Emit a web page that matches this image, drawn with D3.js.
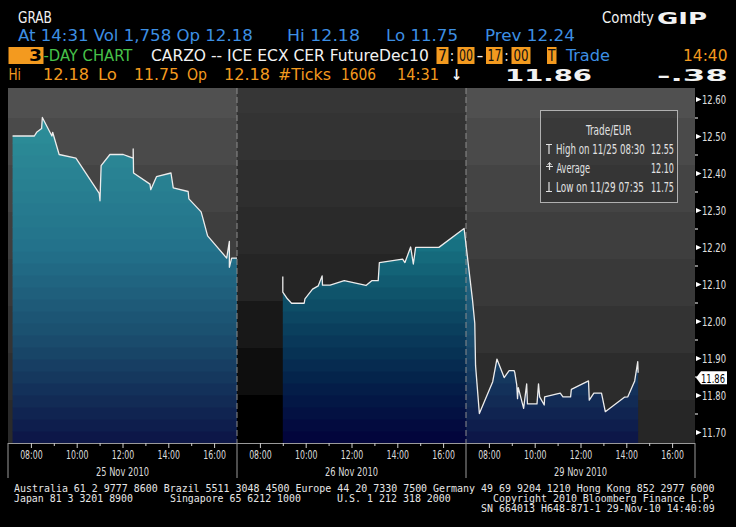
<!DOCTYPE html>
<html><head><meta charset="utf-8">
<script src="https://cdn.jsdelivr.net/npm/d3@7"></script>
<style>body{margin:0;background:#000;} svg{display:block;}</style>
</head><body>
<svg id="c" width="736" height="527"></svg>
<script>
// ---------------- data ----------------
const dayLabels = ["25 Nov 2010", "26 Nov 2010", "29 Nov 2010"];
const dayShort = ["11/25", "11/26", "11/29"];
const hourTicks = [8, 9, 10, 11, 12, 13, 14, 15, 16];
const priceTicks = [11.70, 11.80, 11.90, 12.00, 12.10, 12.20, 12.30, 12.40, 12.50, 12.60];
const day1 = [["07:12",12.50],["08:09",12.50],["08:15",12.51],["08:28",12.52],["08:30",12.55],["08:55",12.50],["08:57",12.51],["09:14",12.45],["09:58",12.44],["10:59",12.345],["11:01",12.325],["11:04",12.42],["11:27",12.45],["12:02",12.45],["12:15",12.445],["12:28",12.44],["12:28",12.465],["12:29",12.40],["13:12",12.37],["13:14",12.355],["13:29",12.39],["14:07",12.40],["14:13",12.36],["14:52",12.35],["14:54",12.33],["15:26",12.295],["15:30",12.28],["15:43",12.23],["16:33",12.17],["16:40",12.215],["16:40",12.145],["16:46",12.17],["17:00",12.17]];
const day2 = [["09:00",12.12],["09:00",12.078],["09:12",12.06],["09:23",12.048],["09:56",12.048],["09:58",12.06],["10:18",12.086],["10:33",12.095],["10:43",12.122],["10:44",12.097],["11:04",12.097],["11:41",12.109],["12:38",12.096],["12:53",12.109],["13:10",12.109],["13:13",12.158],["14:14",12.167],["14:20",12.158],["14:35",12.20],["14:42",12.154],["14:48",12.199],["15:49",12.199],["16:55",12.25]];
const day3 = [["07:17",12.057],["07:23",11.994],["07:25",11.88],["07:35",11.75],["08:10",11.836],["08:21",11.897],["08:40",11.847],["08:53",11.866],["09:06",11.866],["09:08",11.86],["09:13",11.827],["09:15",11.79],["09:17",11.82],["09:31",11.764],["09:39",11.83],["09:41",11.776],["10:06",11.776],["10:10",11.83],["10:13",11.795],["10:25",11.773],["10:26",11.795],["11:07",11.805],["11:14",11.795],["11:34",11.795],["11:36",11.815],["12:21",11.838],["12:23",11.786],["12:35",11.805],["12:55",11.805],["13:05",11.755],["13:55",11.794],["14:04",11.795],["14:22",11.838],["14:30",11.89],["14:31",11.86]];
const lastPrice = 11.86;
const avgPrice = 12.10;

// ---------------- layout ----------------
const plotL = 8, plotR = 695, plotT = 88, plotB = 443, axisB = 478;
const sessStart = 7, sessLen = 10;
const FC = "'DejaVu Sans Condensed','DejaVu Sans',sans-serif";
const svg = d3.select("#c");
svg.append("rect").attr("width",736).attr("height",527).attr("fill","#000");

const x = d3.scaleLinear().domain([0, 30]).range([plotL, plotR]);
const y = d3.scaleLinear().domain([11.70, 12.60]).range([432, 99]);
const sess = (d, t) => { const [h, m] = t.split(":").map(Number); return d * sessLen + h + m / 60 - sessStart; };
const toPts = (arr, d) => arr.map(([t, v]) => ({ s: sess(d, t), v, d, t }));
const s1 = toPts(day1, 0);
const s23 = toPts(day2, 1).concat(toPts(day3, 2));
const all = s1.concat(s23);

const defs = svg.append("defs");

// text fitted to a width by horizontal scaling
function fit(parent, xx, yy, s, w, col, opts = {}) {
  const t = parent.append("text").attr("x", 0).attr("y", 0).attr("fill", col)
    .style("font-family", opts.family || FC).style("font-size", (opts.size || 14) + "px")
    .style("font-weight", opts.bold ? "bold" : "normal").text(s);
  const L = t.node().getComputedTextLength() || w;
  const sx = w / L;
  let x0 = xx;
  if (opts.anchor === "middle") x0 = xx - w / 2;
  if (opts.anchor === "end") x0 = xx - w;
  t.attr("transform", `translate(${x0},${yy}) scale(${sx},1)`);
  return t;
}

// background bands per panel
const bgCols = [
  ["#505050","#4a4a4a","#444444","#3e3e3e","#393939","#343434","#2f2f2f","#2a2a2a"],
  ["#363636","#333333","#2e2e2e","#2a2a2a","#252525","#181818","#0e0e0e","#000000"],
  ["#505050","#4a4a4a","#444444","#3e3e3e","#393939","#333333","#2c2c2c","#262626"]
];
const bgStart = [118, 113, 118];
for (let p = 0; p < 3; p++) {
  const x0 = x(p * sessLen), x1 = x(p * sessLen + sessLen);
  let edges = [plotT];
  for (let e = bgStart[p]; e < plotB; e += 47) edges.push(e);
  edges.push(plotB);
  for (let i = 0; i < edges.length - 1; i++) {
    svg.append("rect").attr("x", x0).attr("y", edges[i]).attr("width", x1 - x0)
      .attr("height", edges[i + 1] - edges[i]).attr("fill", bgCols[p][Math.min(i, 7)]);
  }
  defs.append("clipPath").attr("id", "pc" + p).append("rect")
    .attr("x", x0).attr("y", plotT).attr("width", x1 - x0).attr("height", plotB - plotT);
}

// area clip paths
const area = d3.area().x(d => x(d.s)).y0(plotB).y1(d => y(d.v));
defs.append("clipPath").attr("id", "a1").append("path").attr("d", area(s1));
defs.append("clipPath").attr("id", "a23").append("path").attr("d", area(s23));

const fillLight = d3.scaleLinear().domain([100, 250, 340, 443])
  .range(["#2e939b", "#23718a", "#1a4c6c", "#0c1446"]);
const fillDark = d3.scaleLinear().domain([100, 230, 300, 380, 443])
  .range(["#1f8d99", "#197a89", "#0e5068", "#04224a", "#02023a"]);
const fillScales = [fillLight, fillDark, fillLight];
const areaIds = ["a1", "a23", "a23"];
for (let p = 0; p < 3; p++) {
  const g = svg.append("g").attr("clip-path", `url(#pc${p})`)
    .append("g").attr("clip-path", `url(#${areaIds[p]})`);
  const x0 = x(p * sessLen), x1 = x(p * sessLen + sessLen);
  for (let yy = plotB; yy > plotT; yy -= 12) {
    const top = Math.max(plotT, yy - 12);
    g.append("rect").attr("x", x0).attr("y", top).attr("width", x1 - x0)
      .attr("height", yy - top + 0.5).attr("fill", fillScales[p](yy - 6));
  }
}

// panel separators (dashed)
[1, 2].forEach(p => {
  svg.append("line").attr("x1", x(p * sessLen)).attr("x2", x(p * sessLen))
    .attr("y1", plotT).attr("y2", plotB).attr("stroke", "#8c8c8c")
    .attr("stroke-width", 1).attr("stroke-dasharray", "6,3");
});

// price lines
const line = d3.line().x(d => x(d.s)).y(d => y(d.v));
[s1, s23].forEach(s => svg.append("path").attr("d", line(s)).attr("fill", "none")
  .attr("stroke", "#ececec").attr("stroke-width", 1.3).attr("stroke-linejoin", "round"));

// ---------------- bottom axis ----------------
const axG = svg.append("g");
axG.append("line").attr("x1", plotL).attr("x2", plotR).attr("y1", plotB + 0.5).attr("y2", plotB + 0.5)
  .attr("stroke", "#9a9a9a");
[0, 1, 2, 3].forEach(p => axG.append("line").attr("x1", x(p * sessLen)).attr("x2", x(p * sessLen))
  .attr("y1", plotB).attr("y2", axisB).attr("stroke", "#9a9a9a"));
const majS = [], minS = [];
for (let p = 0; p < 3; p++) hourTicks.forEach(h => (h % 2 === 0 ? majS : minS).push(p * sessLen + h - sessStart));
const fmtH = s => { const h = Math.round(s % sessLen + sessStart); return String(h).padStart(2, "0") + ":00"; };
const gMaj = axG.append("g").attr("transform", `translate(0,${plotB})`)
  .call(d3.axisBottom(x).tickValues(majS).tickSize(5).tickFormat(fmtH));
const gMin = axG.append("g").attr("transform", `translate(0,${plotB})`)
  .call(d3.axisBottom(x).tickValues(minS).tickSize(3).tickFormat(""));
[gMaj, gMin].forEach(g => { g.select(".domain").remove(); g.selectAll("line").attr("stroke", "#cfcfcf"); });
gMaj.selectAll("text").attr("y", 16).attr("dy", 0).attr("fill", "#dcdcdc")
  .style("font-family", FC).style("font-size", "13px")
  .attr("textLength", 22.5).attr("lengthAdjust", "spacingAndGlyphs");
dayLabels.forEach((lab, p) => axG.append("text").attr("x", x(p * sessLen + sessLen / 2)).attr("y", 476)
  .attr("text-anchor", "middle").attr("fill", "#dcdcdc").style("font-family", FC).style("font-size", "13px")
  .attr("textLength", 53).attr("lengthAdjust", "spacingAndGlyphs").text(lab));

// ---------------- right axis ----------------
const gY = svg.append("g").attr("transform", `translate(${plotR},0)`)
  .call(d3.axisRight(y).tickValues(priceTicks).tickSize(0).tickPadding(7).tickFormat(d3.format(".2f")));
gY.select(".domain").remove();
gY.selectAll(".tick text").attr("fill", "#e0e0e0").style("font-family", FC).style("font-size", "13px")
  .attr("textLength", 24).attr("lengthAdjust", "spacingAndGlyphs");
gY.selectAll(".tick").append("path").attr("d", "M1,-2.6L6.5,0L1,2.6Z").attr("fill", "#ffffff");
const midTicks = priceTicks.slice(0, -1).map(v => v + 0.05);
const gY2 = svg.append("g").attr("transform", `translate(${plotR},0)`)
  .call(d3.axisRight(y).tickValues(midTicks).tickSize(3).tickFormat(""));
gY2.select(".domain").remove();
gY2.selectAll("line").attr("stroke", "#ffffff");

// last price tag
const ty = y(lastPrice) + 5;
svg.append("path").attr("d", `M${plotR + 1},${ty} L${plotR + 6},${ty - 6.5} L${plotR + 32},${ty - 6.5} L${plotR + 32},${ty + 6.5} L${plotR + 6},${ty + 6.5} Z`)
  .attr("fill", "#ffffff");
fit(svg, plotR + 6, ty + 5, lastPrice.toFixed(2), 24, "#000", { size: 13 });

// ---------------- legend ----------------
const hi = all.reduce((a, b) => (b.v > a.v ? b : a));
const lo = all.reduce((a, b) => (b.v < a.v ? b : a));
const lg = svg.append("g");
lg.append("rect").attr("x", 540.5).attr("y", 110.5).attr("width", 137).attr("height", 92)
  .attr("fill", "#000").attr("fill-opacity", 0.22).attr("stroke", "#b0b0b0").attr("stroke-width", 1);
const LC = "#e2e2e2";
fit(lg, 586, 135, "Trade/EUR", 45.5, LC);
fit(lg, 556, 154, `High on ${dayShort[hi.d]} ${hi.t}`, 89, LC);
fit(lg, 674, 154, hi.v.toFixed(2), 23, LC, { anchor: "end" });
fit(lg, 556.5, 173, "Average", 33.5, LC);
fit(lg, 674, 173, avgPrice.toFixed(2), 23, LC, { anchor: "end" });
fit(lg, 556, 192, `Low on ${dayShort[lo.d]} ${lo.t}`, 88, LC);
fit(lg, 674, 192, lo.v.toFixed(2), 23, LC, { anchor: "end" });
// symbols
lg.append("path").attr("d", "M546,144.5 H552 M549,144.5 V154").attr("stroke", LC).attr("stroke-width", 1.2);
lg.append("path").attr("d", "M546,166.5 H553 M549.5,163 V170").attr("stroke", LC).attr("stroke-width", 1.2);
lg.append("path").attr("d", "M547.5,165 L549.5,162.5 L551.5,165").attr("stroke", LC).attr("fill", "none");
lg.append("path").attr("d", "M546,191.5 H552 M549,182 V191.5").attr("stroke", LC).attr("stroke-width", 1.2);

// ---------------- header ----------------
const ORANGE = "#f39a1f", BLUE = "#3d8fe3", GREEN = "#47c24a", WHITE = "#f2f2f2";
const ht = (xx, yy, s, col, w, opts = {}) => fit(svg, xx, yy, s, w, col, Object.assign({ size: 15 }, opts));
const box = (x0, x1) => svg.append("rect").attr("x", x0).attr("y", 47).attr("width", x1 - x0).attr("height", 17).attr("fill", ORANGE);
// line 1
ht(18, 23, "GRAB", WHITE, 34);
ht(602, 23, "Comdty", WHITE, 52);
ht(657, 23.5, "GIP", WHITE, 50, { bold: true, size: 16, family: "'DejaVu Sans',sans-serif" });
// line 2
ht(18, 41, "At 14:31 Vol 1,758 Op 12.18", BLUE, 235);
ht(287, 41, "Hi 12.18", BLUE, 73);
ht(386, 41, "Lo 11.75", BLUE, 72);
ht(485, 41, "Prev 12.24", BLUE, 90);
// line 3
box(8.5, 43.5);
ht(29, 61, "3", "#000", 13, { bold: true, size: 16 });
ht(43.5, 61, "-DAY CHART", GREEN, 89);
ht(151, 61, "CARZO -- ICE ECX CER FutureDec10", WHITE, 278);
box(436.5, 448.5); ht(438, 61, "7", "#111", 9);
ht(450, 61, ":", WHITE, 4);
box(457.5, 474.5); ht(459, 61, "00", "#111", 14);
ht(476.5, 61, "-", WHITE, 7);
box(486, 502.5); ht(487.5, 61, "17", "#111", 14);
ht(504.5, 61, ":", WHITE, 4);
box(511.5, 530.5); ht(513.5, 61, "00", "#111", 15);
box(547, 556.5); ht(548, 61, "T", "#111", 7.5);
ht(566, 61, "Trade", BLUE, 44);
ht(683, 61, "14:40", ORANGE, 44.5);
// line 4
ht(8.5, 80, "Hi", ORANGE, 12.5);
ht(43, 80, "12.18", ORANGE, 46);
ht(98, 80, "Lo", ORANGE, 19);
ht(134, 80, "11.75", ORANGE, 45);
ht(187, 80, "Op", ORANGE, 20);
ht(224, 80, "12.18", ORANGE, 46);
ht(278, 80, "#Ticks", ORANGE, 53);
ht(341, 80, "1606", ORANGE, 35);
ht(397, 80, "14:31", ORANGE, 42);
ht(451, 80, "\u2193", WHITE, 11, { bold: true });
ht(505, 80.5, lastPrice.toFixed(2), WHITE, 87, { bold: true, size: 16, family: "'DejaVu Sans',sans-serif" });
ht(657, 80.5, "-.38", WHITE, 71, { bold: true, size: 16, family: "'DejaVu Sans',sans-serif" });

// ---------------- footer ----------------
const MONO = "'DejaVu Sans Mono',monospace";
const ft = (xx, yy, s, w) => fit(svg, xx, yy, s, w, "#e6e6e6", { size: 10, family: MONO });
ft(14, 492, "Australia 61 2 9777 8600 Brazil 5511 3048 4500 Europe 44 20 7330 7500 Germany 49 69 9204 1210 Hong Kong 852 2977 6000", 701);
ft(14, 502, "Japan 81 3 3201 8900", 119);
ft(170, 502, "Singapore 65 6212 1000", 131);
ft(337, 502, "U.S. 1 212 318 2000", 114);
ft(493, 502, "Copyright 2010 Bloomberg Finance L.P.", 222);
ft(481, 512, "SN 664013 H648-871-1 29-Nov-10 14:40:09", 234);
</script>
</body></html>
